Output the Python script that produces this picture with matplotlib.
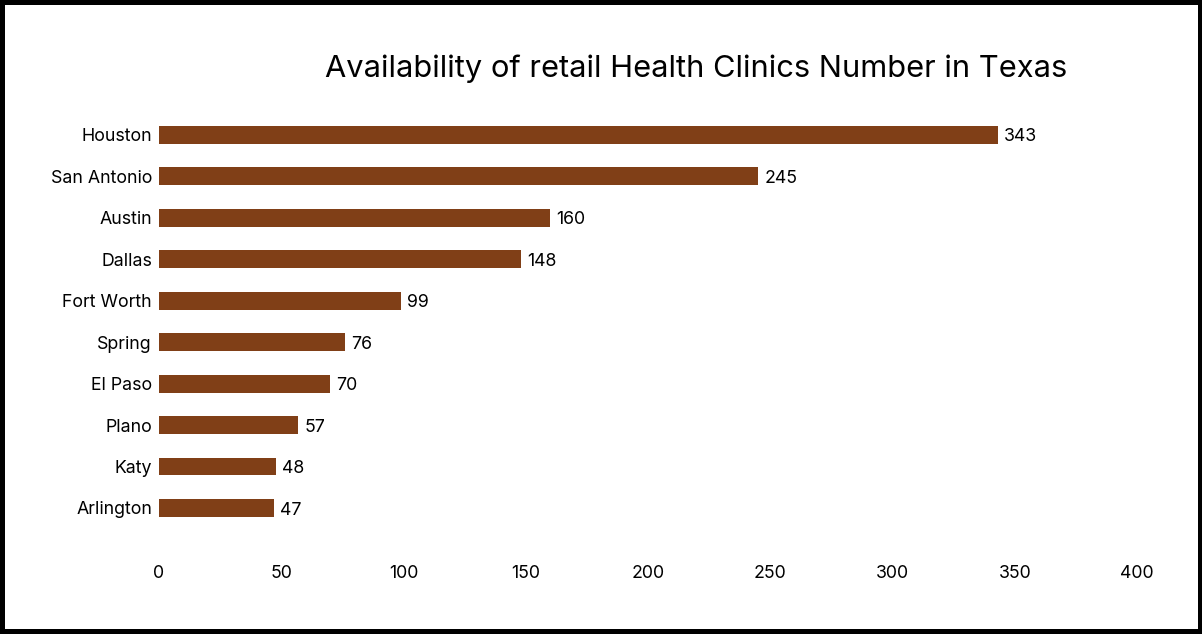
import matplotlib.pyplot as plt
from matplotlib.patches import Rectangle

# Данные
cities = ['Houston', 'San Antonio', 'Austin', 'Dallas', 'Fort Worth',
          'Spring', 'El Paso', 'Plano', 'Katy', 'Arlington']
clinics = [343, 245, 160, 148, 99, 76, 70, 57, 48, 47]
x_ticks = [0, 50, 100, 150, 200, 250, 300, 350, 400]

plt.rcParams['font.family'] = ['Inter', 'DejaVu Sans']

W, H = 1202, 634
fig = plt.figure(figsize=(W / 100, H / 100), dpi=100)

# Чёрная рамка вокруг картинки
fig.patches.append(Rectangle((0, 0), 1, 1, transform=fig.transFigure,
                             facecolor='black', zorder=-10))
fig.patches.append(Rectangle((5 / W, 5 / H), (1198 - 5) / W, (629 - 5) / H,
                             transform=fig.transFigure, facecolor='white', zorder=-9))

left, right = 159, 1137
top, bottom = 110, 549.4
ax = fig.add_axes([left / W, 1 - bottom / H, (right - left) / W, (bottom - top) / H])
ax.set_facecolor('none')

y = list(range(len(cities)))
ax.barh(y, clinics, height=0.43, color='#803f17')
for yi, v in zip(y, clinics):
    ax.text(v + 2.5, yi + 0.05, str(v), va='center', ha='left', fontsize=12.8, color='black')

ax.set_xlim(0, 400)
ax.set_ylim(10.0, -0.6)
ax.set_yticks(y)
ax.set_yticklabels(cities, fontsize=12.8)
ax.set_xticks(x_ticks)
ax.set_xticklabels([str(t) for t in x_ticks], fontsize=12.8)
ax.tick_params(axis='both', length=0)
ax.tick_params(axis='y', pad=5)
ax.tick_params(axis='x', pad=11)
for s in ax.spines.values():
    s.set_visible(False)

fig.text(696 / W, 1 - 69 / H, 'Availability of retail Health Clinics Number in Texas',
         ha='center', va='center', fontsize=22.2, color='black')

fig.savefig('out.png', dpi=100)
